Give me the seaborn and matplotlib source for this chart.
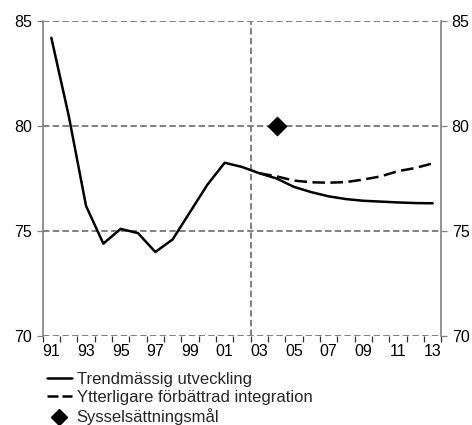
import numpy as np
import pandas as pd
import seaborn as sns
import matplotlib.pyplot as plt
from matplotlib.lines import Line2D
from matplotlib.ticker import FixedLocator

# Data
years = ['91', '92', '93', '94', '95', '96', '97', '98', '99', '00', '01', '02',
         '03', '04', '05', '06', '07', '08', '09', '10', '11', '12', '13']
trend = [84.2, 80.5, 76.2, 74.4, 75.1, 74.9, 74.0, 74.6, 75.9, 77.2, 78.25, 78.05,
         77.75, 77.5, 77.1, 76.85, 76.65, 76.52, 76.44, 76.4, 76.36, 76.33, 76.32]
integ_years = ['03', '04', '05', '06', '07', '08', '09', '10', '11', '12', '13']
integ = [77.75, 77.6, 77.4, 77.32, 77.3, 77.33, 77.45, 77.6, 77.85, 78.0, 78.22]
goal_year = '04'
goal_value = 80.0

yticks = [70, 75, 80, 85]
label_years = years[::2]

sns.set_theme(style='white')
plt.rcParams['font.family'] = ['Liberation Sans', 'DejaVu Sans']
plt.rcParams['font.size'] = 11.5

pos = {y: i for i, y in enumerate(years)}
df_trend = pd.DataFrame({'x': [pos[y] for y in years], 'v': trend})
df_integ = pd.DataFrame({'x': [pos[y] for y in integ_years], 'v': integ})
df_goal = pd.DataFrame({'x': [pos[goal_year]], 'v': [goal_value]})

fig = plt.figure(figsize=(4.72, 4.25), dpi=100)
ax = fig.add_axes([0.0904, 0.2094, 0.8446, 0.7412])

grey = '#808080'
grid_ls = (0, (3.3, 1.7))
for yv in yticks:
    ax.axhline(yv, color=grey, lw=1.4, ls=grid_ls, zorder=1)
ax.axvline(11.5, color=grey, lw=1.4, ls=grid_ls, zorder=1)

sns.lineplot(data=df_trend, x='x', y='v', ax=ax, color='black', lw=1.8, zorder=3)
sns.lineplot(data=df_integ, x='x', y='v', ax=ax, color='black', lw=1.8,
             linestyle=(0, (5, 2.2)), zorder=3)
sns.scatterplot(data=df_goal, x='x', y='v', ax=ax, marker='D', color='black',
                s=90, zorder=4, edgecolor='black')

ax.set_xlim(-0.5, 22.5)
ax.set_ylim(70, 85)
ax.set_xlabel('')
ax.set_ylabel('')

ax.set_xticks([pos[y] for y in label_years])
ax.set_xticklabels(label_years)
ax.xaxis.set_minor_locator(FixedLocator(np.arange(-0.5, 23, 1)))
ax.tick_params(axis='x', which='major', length=0, pad=6, labelsize=11.5, colors='black')
ax.tick_params(axis='x', which='minor', length=4.5, width=0.9, color='#333333',
               bottom=True, direction='out')

ax.set_yticks(yticks)
ax.tick_params(axis='y', which='major', left=True, right=True, labelleft=True,
               labelright=True, length=4.5, width=0.9, color=grey, labelsize=11.5,
               labelcolor='black', pad=3)

for side in ['top', 'bottom']:
    ax.spines[side].set_visible(False)
for side in ['left', 'right']:
    ax.spines[side].set_color(grey)
    ax.spines[side].set_linewidth(1.2)

handles = [
    Line2D([], [], color='black', lw=1.8),
    Line2D([], [], color='black', lw=1.8, linestyle=(0, (4.4, 1.6))),
    Line2D([], [], color='black', lw=0, marker='D', markersize=8),
]
labels = ['Trendmässig utveckling', 'Ytterligare förbättrad integration',
          'Sysselsättningsmål']
fig.legend(handles, labels, loc='upper left', bbox_to_anchor=(0.099, 0.125),
           frameon=False, fontsize=12, handlelength=1.5, handletextpad=0.3,
           labelspacing=0.2, borderpad=0, borderaxespad=0)

fig.savefig('out.png', dpi=100)
